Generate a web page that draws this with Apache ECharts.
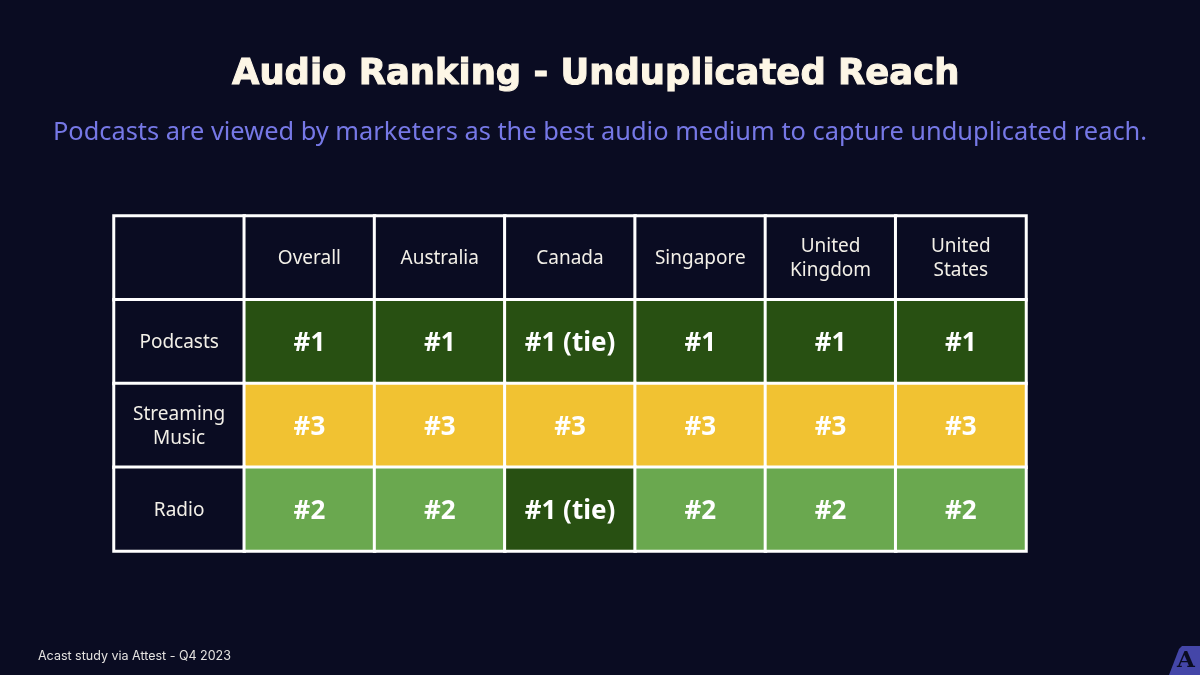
<!DOCTYPE html>
<html>
<head>
<meta charset="utf-8">
<style>html,body{margin:0;padding:0;background:#0a0c22}#chart{width:1200px;height:675px}</style>
<script src="https://cdn.jsdelivr.net/npm/echarts@6/dist/echarts.min.js"></script>
</head>
<body>
<div id="chart"></div>
<script>
var columns = ['', 'Overall', 'Australia', 'Canada', 'Singapore', 'United\nKingdom', 'United\nStates'];
var rows = [
    { name: 'Podcasts', ranks: ['#1', '#1', '#1 (tie)', '#1', '#1', '#1'] },
    { name: 'Streaming\nMusic', ranks: ['#3', '#3', '#3', '#3', '#3', '#3'] },
    { name: 'Radio', ranks: ['#2', '#2', '#1 (tie)', '#2', '#2', '#2'] }
];
var rankColors = { '#1': '#285012', '#1 (tie)': '#285012', '#2': '#6aa84f', '#3': '#f1c232' };
var bg = '#0a0c22';

// header cells and ranks all go in one heatmap table
var cells = [];
function headCell(x, y, text) {
    cells.push({
        value: [x, y, 0],
        text: text,
        itemStyle: { color: bg },
        label: { fontFamily: 'Noto Sans', fontSize: 19, fontWeight: 400, lineHeight: 24, color: '#f3f0e8', offset: [0, 1] }
    });
}
columns.forEach(function (c, i) { headCell(i, 0, c); });
rows.forEach(function (r, y) {
    headCell(0, y + 1, r.name);
    r.ranks.forEach(function (rank, x) {
        cells.push({
            value: [x + 1, y + 1, parseInt(rank.charAt(1))],
            text: rank,
            itemStyle: { color: rankColors[rank] },
            label: { fontFamily: 'Noto Sans', fontSize: 26, fontWeight: 700, color: '#ffffff', offset: [0, 2] }
        });
    });
});

var chart = echarts.init(document.getElementById('chart'), null, { renderer: 'canvas' });
chart.setOption({
    backgroundColor: bg,
    animation: false,
    title: [
        {
            text: 'Audio Ranking - Unduplicated Reach',
            left: 227, top: 52,
            textStyle: { fontFamily: 'DejaVu Sans', fontSize: 35.4, fontWeight: 700, color: '#fdf6e6', textBorderColor: '#fdf6e6', textBorderWidth: 1 }
        },
        {
            text: 'Podcasts are viewed by marketers as the best audio medium to capture unduplicated reach.',
            left: 'center', top: 115,
            textStyle: { fontFamily: 'Noto Sans', fontSize: 25.4, fontWeight: 400, color: '#7678e6' }
        },
        {
            text: 'Acast study via Attest - Q4 2023',
            left: 33, top: 645,
            textStyle: { fontFamily: 'Inter', fontSize: 12.5, fontWeight: 400, color: '#e4e2e0' }
        }
    ],
    grid: { left: 114, top: 216, width: 912, height: 335 },
    xAxis: { type: 'category', data: columns, show: false },
    yAxis: { type: 'category', data: [''].concat(rows.map(function (r) { return r.name; })), inverse: true, show: false },
    series: [{
        type: 'heatmap',
        data: cells,
        itemStyle: { borderColor: '#ffffff', borderWidth: 3 },
        label: {
            show: true,
            formatter: function (p) { return p.data.text; }
        },
        emphasis: { disabled: true }
    }],
    graphic: [
        {
            type: 'polygon',
            shape: { points: [[1169, 675], [1179, 649], [1182, 646], [1200, 646], [1200, 675]] },
            style: { fill: '#4446a8' }
        },
        {
            type: 'text',
            style: { x: 1186, y: 661, text: 'A', align: 'center', verticalAlign: 'middle', font: '800 23px "DejaVu Serif"', fill: '#0a0c22' }
        }
    ]
});
</script>
</body>
</html>
